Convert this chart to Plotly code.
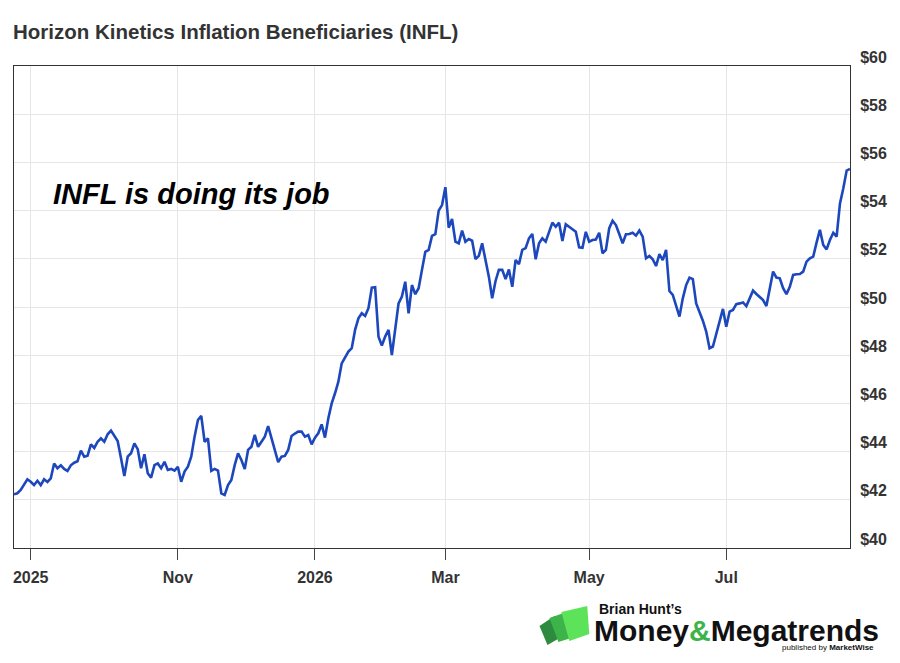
import plotly.graph_objects as go

FONT = "Liberation Sans, Arial, sans-serif"

# ---- data (trading days) ----
dates = [
    # Aug 2025
    "2025-08-25", "2025-08-26", "2025-08-27", "2025-08-28", "2025-08-29",
    # Sep 2025
    "2025-09-02", "2025-09-03", "2025-09-04", "2025-09-05", "2025-09-08", "2025-09-09", "2025-09-10",
    "2025-09-11", "2025-09-12", "2025-09-15", "2025-09-16", "2025-09-17", "2025-09-18", "2025-09-19",
    "2025-09-22", "2025-09-23", "2025-09-24", "2025-09-25", "2025-09-26", "2025-09-29", "2025-09-30",
    # Oct 2025
    "2025-10-01", "2025-10-02", "2025-10-03", "2025-10-06", "2025-10-07", "2025-10-08", "2025-10-09",
    "2025-10-10", "2025-10-13", "2025-10-14", "2025-10-15", "2025-10-16", "2025-10-17", "2025-10-20",
    "2025-10-21", "2025-10-22", "2025-10-23", "2025-10-24", "2025-10-27", "2025-10-28", "2025-10-29",
    "2025-10-30", "2025-10-31",
    # Nov 2025
    "2025-11-03", "2025-11-04", "2025-11-05", "2025-11-06", "2025-11-07", "2025-11-10", "2025-11-11",
    "2025-11-12", "2025-11-13", "2025-11-14", "2025-11-17", "2025-11-18", "2025-11-19", "2025-11-20",
    "2025-11-21", "2025-11-24", "2025-11-25", "2025-11-26", "2025-11-28",
    # Dec 2025
    "2025-12-01", "2025-12-02", "2025-12-03", "2025-12-04", "2025-12-05", "2025-12-08", "2025-12-09",
    "2025-12-10", "2025-12-11", "2025-12-12", "2025-12-15", "2025-12-16", "2025-12-17", "2025-12-18",
    "2025-12-19", "2025-12-22", "2025-12-23", "2025-12-24", "2025-12-26", "2025-12-29", "2025-12-30",
    "2025-12-31",
    # Jan 2026
    "2026-01-02", "2026-01-05", "2026-01-06", "2026-01-07", "2026-01-08", "2026-01-09", "2026-01-12",
    "2026-01-13", "2026-01-14", "2026-01-15", "2026-01-16", "2026-01-20", "2026-01-21", "2026-01-22",
    "2026-01-23", "2026-01-26", "2026-01-27", "2026-01-28", "2026-01-29", "2026-01-30",
    # Feb 2026
    "2026-02-02", "2026-02-03", "2026-02-04", "2026-02-05", "2026-02-06", "2026-02-09", "2026-02-10",
    "2026-02-11", "2026-02-12", "2026-02-13", "2026-02-17", "2026-02-18", "2026-02-19", "2026-02-20",
    "2026-02-23", "2026-02-24", "2026-02-25", "2026-02-26", "2026-02-27",
    # Mar 2026
    "2026-03-02", "2026-03-03", "2026-03-04", "2026-03-05", "2026-03-06", "2026-03-09", "2026-03-10",
    "2026-03-11", "2026-03-12", "2026-03-13", "2026-03-16", "2026-03-17", "2026-03-18", "2026-03-19",
    "2026-03-20", "2026-03-23", "2026-03-24", "2026-03-25", "2026-03-26", "2026-03-27", "2026-03-30",
    "2026-03-31",
    # Apr 2026
    "2026-04-01", "2026-04-02", "2026-04-06", "2026-04-07", "2026-04-08", "2026-04-09", "2026-04-10",
    "2026-04-13", "2026-04-14", "2026-04-15", "2026-04-16", "2026-04-17", "2026-04-20", "2026-04-21",
    "2026-04-22", "2026-04-23", "2026-04-24", "2026-04-27", "2026-04-28", "2026-04-29", "2026-04-30",
    # May 2026
    "2026-05-01", "2026-05-04", "2026-05-05", "2026-05-06", "2026-05-07", "2026-05-08", "2026-05-11",
    "2026-05-12", "2026-05-13", "2026-05-14", "2026-05-15", "2026-05-18", "2026-05-19", "2026-05-20",
    "2026-05-21", "2026-05-22", "2026-05-26", "2026-05-27", "2026-05-28", "2026-05-29",
    # Jun 2026
    "2026-06-01", "2026-06-02", "2026-06-03", "2026-06-04", "2026-06-05", "2026-06-08", "2026-06-09",
    "2026-06-10", "2026-06-11", "2026-06-12", "2026-06-15", "2026-06-16", "2026-06-17", "2026-06-18",
    "2026-06-22", "2026-06-23", "2026-06-24", "2026-06-25", "2026-06-26", "2026-06-29", "2026-06-30",
    # Jul 2026
    "2026-07-01", "2026-07-02", "2026-07-06", "2026-07-07", "2026-07-08", "2026-07-09", "2026-07-10",
    "2026-07-13", "2026-07-14", "2026-07-15", "2026-07-16", "2026-07-17", "2026-07-20", "2026-07-21",
    "2026-07-22", "2026-07-23", "2026-07-24", "2026-07-27", "2026-07-28", "2026-07-29", "2026-07-30",
    "2026-07-31",
    # Aug 2026
    "2026-08-03", "2026-08-04", "2026-08-05", "2026-08-06", "2026-08-07", "2026-08-10", "2026-08-11",
    "2026-08-12", "2026-08-13", "2026-08-14", "2026-08-17", "2026-08-18", "2026-08-19", "2026-08-20",
    "2026-08-21", "2026-08-24",
]

prices = [
    # Aug 2025
    42.23, 42.27, 42.41, 42.61, 42.85,
    # Sep 2025
    42.75, 42.61, 42.79, 42.61, 42.85, 42.74, 42.89, 43.51, 43.31, 43.43, 43.28,
    43.20, 43.43, 43.54, 43.60, 44.04, 43.79, 43.83, 44.30, 44.15, 44.41,
    # Oct 2025
    44.55, 44.41, 44.72, 44.87, 44.65, 44.44, 43.72, 42.99, 43.79, 43.93, 44.34,
    44.10, 43.31, 43.89, 43.10, 42.92, 43.44, 43.51, 43.31, 43.58, 43.24, 43.28, 43.21,
    # Nov 2025
    43.37, 42.75, 43.17, 43.37, 43.79, 44.62, 45.31, 45.48, 44.41, 44.55, 43.20,
    43.28, 43.21, 42.27, 42.20, 42.61, 42.82, 43.44, 43.93,
    # Dec 2025
    43.65, 43.28, 44.07, 44.20, 44.69, 44.20, 44.41, 44.62, 45.06, 44.55, 44.07,
    43.56, 43.79, 43.82, 44.07, 44.65, 44.75, 44.83, 44.83, 44.62, 44.69, 44.30,
    # Jan 2026
    44.58, 44.76, 45.13, 44.58, 45.38, 46.00, 46.42, 46.90, 47.66, 47.94, 48.15,
    48.29, 49.05, 49.53, 49.74, 49.63, 49.95, 50.80, 50.82, 48.77,
    # Feb 2026
    48.40, 48.77, 49.05, 48.01, 49.18, 50.15, 50.43, 51.05, 49.74, 50.91, 50.53,
    50.78, 51.54, 52.29, 52.37, 52.95, 53.02, 54.00, 54.23,
    # Mar 2026
    54.97, 53.29, 53.65, 52.71, 52.64, 53.17, 52.71, 52.82, 52.75, 51.99, 52.12,
    52.64, 52.02, 51.26, 50.36, 51.08, 51.54, 51.54, 51.16, 51.56, 50.84, 51.95,
    # Apr 2026
    51.78, 52.37, 52.44, 52.85, 53.03, 51.98, 52.64, 52.85, 52.71, 53.12, 53.50,
    53.33, 53.50, 52.74, 53.43, 53.33, 53.22, 53.12, 52.48, 52.46, 53.12,
    # May 2026
    52.71, 52.78, 52.80, 53.08, 52.23, 52.37, 53.27, 53.58, 53.40, 53.03, 52.64,
    53.02, 53.03, 53.08, 52.96, 53.17, 52.92, 52.02, 52.12, 51.98,
    # Jun 2026
    51.70, 52.19, 51.95, 52.37, 50.66, 50.50, 50.08, 49.60, 50.36, 50.91, 51.22,
    51.16, 50.15, 49.80, 49.43, 48.98, 48.29, 48.36, 48.88, 49.30, 49.92,
    # Jul 2026
    49.18, 49.81, 49.88, 50.12, 50.15, 50.19, 50.04, 50.40, 50.68, 50.54, 50.43,
    50.29, 50.04, 50.78, 51.47, 51.22, 51.19, 50.78, 50.53, 50.84, 51.33, 51.36,
    # Aug 2026
    51.37, 51.47, 51.88, 52.02, 52.09, 52.67, 53.20, 52.57, 52.39, 52.78, 53.08,
    52.92, 54.30, 54.93, 55.66, 55.73,
]

market_holidays = [
    "2025-09-01", "2025-11-27", "2025-12-25", "2026-01-01", "2026-01-19",
    "2026-02-16", "2026-04-03", "2026-05-25", "2026-06-19", "2026-07-03",
]

x_tick_vals = ["2025-09-02", "2025-11-03", "2026-01-02", "2026-03-02", "2026-05-01", "2026-07-01"]
x_tick_text = ["2025", "Nov", "2026", "Mar", "May", "Jul"]

y_tick_vals = [40, 42, 44, 46, 48, 50, 52, 54, 56, 58, 60]
y_tick_text = ["$40", "$42", "$44", "$46", "$48", "$50", "$52", "$54", "$56", "$58", "$60"]

title_text = "Horizon Kinetics Inflation Beneficiaries (INFL)"
note_text = "INFL is doing its job"

# ---- figure ----
fig = go.Figure()
fig.add_trace(go.Scatter(
    x=dates, y=prices, mode="lines",
    line=dict(color="#1c47bd", width=2.6),
    hoverinfo="x+y", showlegend=False,
))

# the page body adds an 8px offset; size the figure so it fits the window
OFF = 8
W, H = 884, 647
L, T = 13 - OFF, 66 - OFF
R = W - (853 - OFF)
B = H - (548 - OFF)
pw, ph = W - L - R, H - T - B


def px(xs):
    # screen x (reference pixels) -> paper
    return (xs - OFF - L) / pw


def py(ys):
    # screen y (reference pixels) -> paper
    return (H - B - (ys - OFF)) / ph


fig.update_layout(
    width=W, height=H, autosize=False,
    margin=dict(l=L, r=R, t=T, b=B, pad=0),
    paper_bgcolor="white", plot_bgcolor="white",
    font=dict(family=FONT, color="#333333"),
    title=dict(
        text=title_text, xref="container", yref="container",
        x=(13 - OFF) / W, xanchor="left", y=1 - (32 - OFF) / H, yanchor="middle",
        font=dict(family=FONT, size=20.5, color="#333333", weight="bold"),
    ),
)

fig.update_xaxes(
    type="date",
    range=[dates[0], dates[-1]],
    rangebreaks=[dict(bounds=["sat", "mon"]), dict(values=market_holidays)],
    tickmode="array", tickvals=x_tick_vals, ticktext=x_tick_text,
    ticks="outside", ticklen=11, tickwidth=1, tickcolor="#444444",
    ticklabelstandoff=4,
    tickfont=dict(family=FONT, size=16, color="#333333", weight="bold"),
    showgrid=True, gridcolor="#e6e6e6", gridwidth=1,
    showline=True, linecolor="#333333", linewidth=1, mirror=True,
    zeroline=False, fixedrange=True,
)

fig.update_yaxes(
    range=[40, 60], side="right",
    tickmode="array", tickvals=y_tick_vals, ticktext=y_tick_text,
    ticks="", ticklabelshift=-9, ticklabelstandoff=6,
    tickfont=dict(family=FONT, size=16, color="#333333", weight="bold"),
    showgrid=True, gridcolor="#e6e6e6", gridwidth=1,
    showline=True, linecolor="#333333", linewidth=1, mirror=True,
    zeroline=False, fixedrange=True,
)

# chart note
fig.add_annotation(
    text=note_text, xref="paper", yref="paper",
    x=px(50), y=py(194), xanchor="left", yanchor="middle", showarrow=False,
    font=dict(family=FONT, size=29, color="#000000", weight="bold", style="italic"),
)

# ---- logo (decorative) ----
def path(points):
    return "M " + " L ".join(f"{px(a):.5f},{py(b):.5f}" for a, b in points) + " Z"


logo_shapes = [
    ("#2e8a3f", [(541, 626), (556, 616), (563, 637), (549, 645)]),
    ("#3cb44a", [(551, 618), (571, 611), (576, 637), (560, 642)]),
    ("#5de35a", [(563, 612), (589, 606), (591, 634), (571, 641)]),
]
for col, pts in logo_shapes:
    fig.add_shape(type="path", path=path(pts), xref="paper", yref="paper",
                  fillcolor=col, line=dict(width=0), layer="above")

fig.add_annotation(
    text="Brian Hunt’s", xref="paper", yref="paper", x=px(599), y=py(609),
    xanchor="left", yanchor="middle", showarrow=False,
    font=dict(family=FONT, size=14, color="#111111", weight="bold"),
)
fig.add_annotation(
    text="Money<span style='color:#3cb44a'>&amp;</span>Megatrends",
    xref="paper", yref="paper", x=px(594), y=py(630),
    xanchor="left", yanchor="middle", showarrow=False,
    font=dict(family=FONT, size=30, color="#111111", weight="bold"),
)
fig.add_annotation(
    text="published by <b>MarketWise</b>", xref="paper", yref="paper",
    x=px(879), y=py(647), xanchor="right", yanchor="middle", showarrow=False,
    font=dict(family=FONT, size=8, color="#111111"),
)

fig.write_html("out.html")
